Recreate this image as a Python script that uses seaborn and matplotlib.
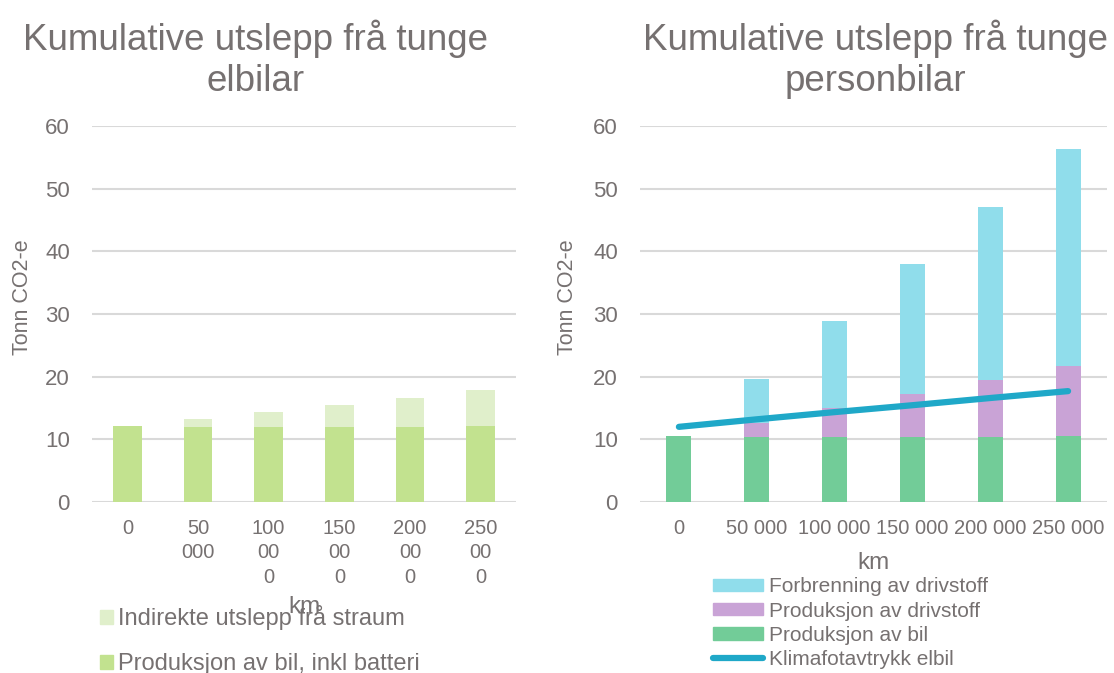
import numpy as np
import pandas as pd
import matplotlib
matplotlib.use("Agg")
import matplotlib.pyplot as plt
import seaborn as sns
from matplotlib.patches import Patch
from matplotlib.lines import Line2D

# ---- data ----
km_left = ["0", "50\n000", "100\n00\n0", "150\n00\n0", "200\n00\n0", "250\n00\n0"]
km_right = ["0", "50 000", "100 000", "150 000", "200 000", "250 000"]

el_prod_bil = [12.1, 11.9, 11.9, 11.9, 11.9, 12.1]
el_indirekte = [0.0, 1.3, 2.45, 3.55, 4.7, 5.75]

fb_prod_bil = [10.5, 10.4, 10.4, 10.4, 10.4, 10.5]
fb_prod_drivstoff = [0.0, 2.15, 4.65, 6.8, 9.05, 11.2]
fb_forbrenning = [0.0, 7.05, 13.8, 20.75, 27.6, 34.6]

klima_elbil = [12.0, 13.2, 14.35, 15.45, 16.6, 17.7]

# ---- style ----
sns.set_theme(style="white")
plt.rcParams["font.family"] = ["Liberation Sans", "DejaVu Sans"]
TXT = "#767171"
GRID = "#D9D9D9"
C_EL = "#C2E28F"
C_IND = "#E0EFCB"
C_FORB = "#90DDEB"
C_PDRV = "#C9A3D6"
C_PBIL = "#72CC98"
C_LINE = "#1FA8C8"

fig = plt.figure(figsize=(11.14, 6.73), dpi=100)
ax1 = fig.add_axes([0.0826, 0.254, 0.3806, 0.5588])
ax2 = fig.add_axes([0.5745, 0.254, 0.4192, 0.5588])

bar_kw = dict(saturation=1, linewidth=0)

# left chart
dfl = pd.DataFrame({"km": km_left, "bil": el_prod_bil,
                    "tot": np.array(el_prod_bil) + np.array(el_indirekte)})
sns.barplot(data=dfl, x="km", y="tot", color=C_IND, width=0.41, ax=ax1, **bar_kw)
sns.barplot(data=dfl, x="km", y="bil", color=C_EL, width=0.41, ax=ax1, **bar_kw)

# right chart
b = np.array(fb_prod_bil)
d = b + np.array(fb_prod_drivstoff)
t = d + np.array(fb_forbrenning)
dfr = pd.DataFrame({"km": km_right, "bil": b, "drv": d, "tot": t})
sns.barplot(data=dfr, x="km", y="tot", color=C_FORB, width=0.32, ax=ax2, **bar_kw)
sns.barplot(data=dfr, x="km", y="drv", color=C_PDRV, width=0.32, ax=ax2, **bar_kw)
sns.barplot(data=dfr, x="km", y="bil", color=C_PBIL, width=0.32, ax=ax2, **bar_kw)
sns.lineplot(x=np.arange(len(klima_elbil)), y=klima_elbil, color=C_LINE, lw=4.5,
             solid_capstyle="round", ax=ax2, zorder=5)

for ax in (ax1, ax2):
    ax.set_ylim(0, 60)
    ax.set_xlim(-0.5, 5.5)
    ax.set_yticks(range(0, 61, 10))
    ax.yaxis.grid(True, color=GRID, lw=1.5)
    ax.set_axisbelow(True)
    for s in ax.spines.values():
        s.set_visible(False)
    ax.tick_params(axis="both", length=0, colors=TXT)
    ax.tick_params(axis="y", pad=16, labelsize=16)
    ax.tick_params(axis="x", pad=12, labelsize=14.5)
    ax.set_ylabel("Tonn CO2-e", color=TXT, fontsize=15.5)
    ax.set_xlabel("km", color=TXT, fontsize=17.5)

for lab in ax1.get_xticklabels():
    lab.set_linespacing(1.37)
ax1.xaxis.set_label_coords(0.5, -0.25)
ax2.xaxis.set_label_coords(0.5, -0.132)
ax1.yaxis.set_label_coords(-0.139, 0.545)
ax2.yaxis.set_label_coords(-0.133, 0.545)

fig.text(0.229, 0.912, "Kumulative utslepp frå tunge\nelbilar", ha="center", va="center",
         color=TXT, fontsize=26.5, linespacing=1.23)
fig.text(0.786, 0.912, "Kumulative utslepp frå tunge\npersonbilar", ha="center", va="center",
         color=TXT, fontsize=26.5, linespacing=1.23)

h1 = [Patch(color=C_IND, label="Indirekte utslepp frå straum"),
      Patch(color=C_EL, label="Produksjon av bil, inkl batteri")]
fig.legend(handles=h1, loc="upper left", bbox_to_anchor=(0.0898, 0.101), frameon=False,
           fontsize=17, labelcolor=TXT, handlelength=0.55, handleheight=0.55,
           handletextpad=0.2, labelspacing=0.98, borderpad=0, borderaxespad=0)

h2 = [Patch(color=C_FORB, label="Forbrenning av drivstoff"),
      Patch(color=C_PDRV, label="Produksjon av drivstoff"),
      Patch(color=C_PBIL, label="Produksjon av bil"),
      Line2D([0], [0], color=C_LINE, lw=4.5, solid_capstyle="round", label="Klimafotavtrykk elbil")]
fig.legend(handles=h2, loc="upper left", bbox_to_anchor=(0.64, 0.142), frameon=False,
           fontsize=15, labelcolor=TXT, handlelength=2.4, handleheight=0.53,
           handletextpad=0.3, labelspacing=0.25, borderpad=0, borderaxespad=0)

fig.savefig("out.png", dpi=100)
